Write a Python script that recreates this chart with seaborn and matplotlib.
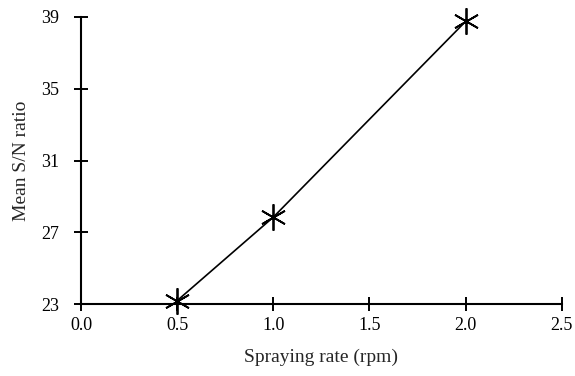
import matplotlib
matplotlib.use("Agg")
import matplotlib.pyplot as plt
import seaborn as sns
import pandas as pd

spray_rate = [0.5, 1.0, 2.0]
mean_sn = [23.2, 27.85, 38.75]
x_ticks = [0.0, 0.5, 1.0, 1.5, 2.0, 2.5]
y_ticks = [23, 27, 31, 35, 39]

sns.set_theme(style="ticks")
plt.rcParams['font.family'] = ['Liberation Serif', 'DejaVu Serif']

df = pd.DataFrame({"rate": spray_rate, "sn": mean_sn})

fig = plt.figure(figsize=(5.75, 3.76), dpi=100)
ax = fig.add_axes([0.141, 0.191, 0.836, 0.764])
sns.lineplot(data=df, x="rate", y="sn", ax=ax, color="black", linewidth=1.2,
             marker="o", markersize=19, markeredgewidth=1.3,
             markeredgecolor="black", markerfacecolor="black")
for line in ax.lines:
    line.set_marker((6, 2, 0))
    line.set_clip_on(False)

ax.set_xlim(0, 2.5)
ax.set_ylim(23, 39)
ax.set_xticks(x_ticks)
ax.set_xticklabels([f"{v:.1f}" for v in x_ticks])
ax.set_yticks(y_ticks)
ax.set_yticklabels([str(v) for v in y_ticks])
ax.set_xlabel("Spraying rate (rpm)", fontsize=14, labelpad=11)
ax.set_ylabel("Mean S/N ratio", fontsize=14, labelpad=8)
ax.tick_params(axis="both", direction="inout", length=10, width=1.4,
               labelsize=13, colors="black")
ax.tick_params(axis="x", pad=4)
ax.tick_params(axis="y", pad=11)
for s in ["top", "right"]:
    ax.spines[s].set_visible(False)
for s in ["left", "bottom"]:
    ax.spines[s].set_linewidth(1.5)
    ax.spines[s].set_color("black")
    ax.spines[s].set_zorder(1)

fig.savefig("out.png", dpi=100)
